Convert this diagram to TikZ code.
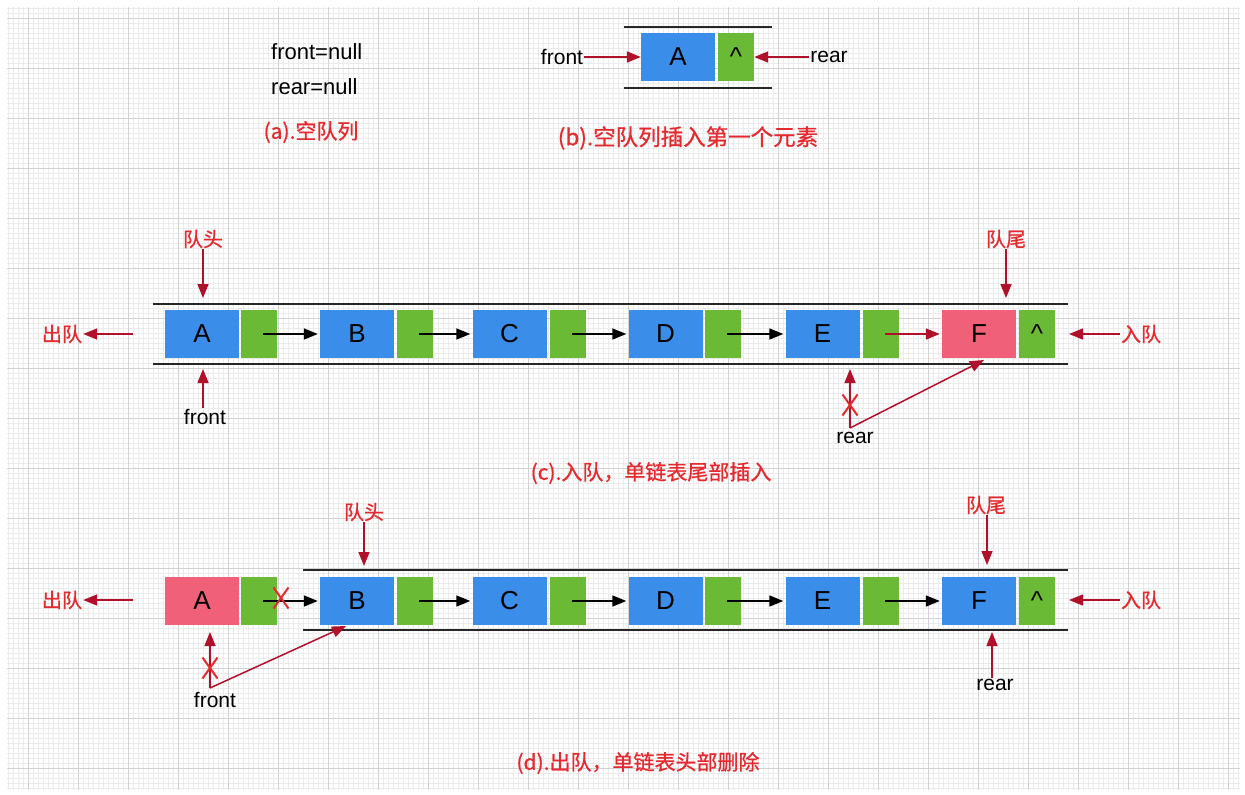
\documentclass[tikz,border=0pt]{standalone}
\usepackage{fontspec}
\setmainfont{Liberation Sans}
\newfontfamily\cjk{Noto Sans CJK SC}[FakeBold=0.8]
\usetikzlibrary{arrows.meta,shapes.misc}
\definecolor{qblue}{HTML}{3B8DEA}
\definecolor{qgreen}{HTML}{6BBA35}
\definecolor{qpink}{HTML}{F06079}
\definecolor{qred}{HTML}{E42A2E}
\definecolor{qdark}{HTML}{B0102A}
\definecolor{gminor}{HTML}{EBEBEB}
\definecolor{gmajor}{HTML}{D2D2D2}
\begin{document}
\begin{tikzpicture}[x=1pt,y=-1pt,
  valbox/.style={fill=qblue, minimum width=74pt, minimum height=48pt, inner sep=0pt, font=\fontsize{26}{26}\selectfont},
  newbox/.style={valbox, fill=qpink},
  ptrbox/.style={fill=qgreen, minimum width=36pt, minimum height=48pt, inner sep=0pt, font=\fontsize{26}{26}\selectfont},
  lbl/.style={inner sep=1pt, font=\fontsize{21}{21}\selectfont},
  redlbl/.style={inner sep=1pt, text=qred, font=\cjk\fontsize{20}{20}\selectfont},
  capt/.style={inner sep=1pt, text=qred, font=\cjk\fontsize{21}{21}\selectfont},
  link/.style={-{Triangle[length=14pt,width=11pt]}, line width=1.5pt, black, shorten <=4pt, shorten >=2pt},
  redlink/.style={link, qdark},
  redarr/.style={-{Triangle[length=14pt,width=11pt]}, line width=1.5pt, qdark},
  rail/.style={line width=1.8pt, black!85},
  xmark/.style={cross out, draw=qred, line width=2pt, minimum width=13pt, minimum height=19pt, inner sep=0pt}
]
\useasboundingbox (0,0) rectangle (1245,795);
\fill[white] (0,0) rectangle (1245,795);
% grid background
\begin{scope}[shift={(28,18)}]
  \draw[gminor, line width=0.4pt, step=5pt] (-21,-11) grid (1212,772);
  \draw[gmajor, line width=0.7pt, step=50pt] (-21,-11) grid (1212,772);
\end{scope}

% ---------- (a) ----------
\node[lbl, anchor=west, font=\fontsize{22}{22}\selectfont] (anull) at (270,52) {front=null};
\node[lbl, anchor=west, font=\fontsize{22}{22}\selectfont] (rnull) at (270,87) {rear=null};
\node[capt] (acap) at (311,132) {(a).空队列};

% ---------- (b) ----------
\draw[rail] (624,27) -- (772,27);
\draw[rail] (624,88) -- (772,88);
\node[valbox] (bA) at (678,57) {A};
\node[ptrbox] (bP) at (736,57) {\textasciicircum};
\node[lbl] (bfront) at (562,57) {front};
\node[lbl] (brear) at (829,57) {rear};
\draw[redarr] (bfront) -- (bA);
\draw[redarr] (brear) -- (bP);
\node[capt, font=\cjk\fontsize{22.5}{22.5}\selectfont] (bcap) at (688,138) {(b).空队列插入第一个元素};

% ---------- (c) ----------
\draw[rail] (153,304) -- (1068,304);
\draw[rail] (153,364) -- (1068,364);
\node[valbox] (cA) at (202,334) {A};
\node[ptrbox] (cPa) at (259,334) {};
\node[valbox] (cB) at (357,334) {B};
\node[ptrbox] (cPb) at (415,334) {};
\node[valbox] (cC) at (509.5,334) {C};
\node[ptrbox] (cPc) at (568,334) {};
\node[valbox] (cD) at (665.5,334) {D};
\node[ptrbox] (cPd) at (723,334) {};
\node[valbox] (cE) at (822.5,334) {E};
\node[ptrbox] (cPe) at (881,334) {};
\node[newbox] (cF) at (979,334) {F};
\node[ptrbox] (cPf) at (1037,334) {\textasciicircum};
\draw[link] (cPa.center) -- (cB);
\draw[link] (cPb.center) -- (cC);
\draw[link] (cPc.center) -- (cD);
\draw[link] (cPd.center) -- (cE);
\draw[redlink] (cPe.center) -- (cF);

\node[redlbl] (chead) at (203,239) {队头};
\coordinate (cheadtip) at (203,298);
\draw[redarr] (chead) -- (cheadtip);
\node[redlbl] (ctail) at (1006,239) {队尾};
\coordinate (ctailtip) at (1006,298);
\draw[redarr] (ctail) -- (ctailtip);
\node[redlbl] (cout) at (62,334) {出队};
\coordinate (coutstart) at (133,334);
\draw[redarr] (coutstart) -- (cout);
\node[redlbl] (cin) at (1141,334) {入队};
\coordinate (cintip) at (1069,334);
\draw[redarr] (cin) -- (cintip);

\node[lbl] (cfront) at (205,417) {front};
\coordinate (cfronttip) at (203,369);
\draw[redarr] (cfront.north -| cfronttip) -- (cfronttip);

\node[lbl] (crear) at (855,438) {rear};
\coordinate (crb) at (850,428);
\coordinate (crtip) at (850,369);
\coordinate (cFtip) at (984,360);
\draw[redarr] (crb) -- (crtip);
\draw[redarr] (crb) -- (cFtip);
\node[xmark] (cx) at (850,405) {};
\node[capt] (ccap) at (651,473) {(c).入队，单链表尾部插入};

% ---------- (d) ----------
\draw[rail] (303,570) -- (1068,570);
\draw[rail] (303,630) -- (1068,630);
\node[newbox] (dA) at (202,601) {A};
\node[ptrbox] (dPa) at (259,601) {};
\node[valbox] (dB) at (357,601) {B};
\node[ptrbox] (dPb) at (415,601) {};
\node[valbox] (dC) at (509.5,601) {C};
\node[ptrbox] (dPc) at (568,601) {};
\node[valbox] (dD) at (665.5,601) {D};
\node[ptrbox] (dPd) at (723,601) {};
\node[valbox] (dE) at (822.5,601) {E};
\node[ptrbox] (dPe) at (881,601) {};
\node[valbox] (dF) at (979,601) {F};
\node[ptrbox] (dPf) at (1037,601) {\textasciicircum};
\draw[link] (dPa.center) -- (dB);
\draw[link] (dPb.center) -- (dC);
\draw[link] (dPc.center) -- (dD);
\draw[link] (dPd.center) -- (dE);
\draw[link] (dPe.center) -- (dF);
\node[xmark] (dx1) at (281,598) {};

\node[redlbl] (dhead) at (364,512) {队头};
\coordinate (dheadtip) at (364,566);
\draw[redarr] (dhead) -- (dheadtip);
\node[redlbl] (dtail) at (986,505) {队尾};
\coordinate (dtailtip) at (987,565);
\draw[redarr] (dtail.south -| dtailtip) -- (dtailtip);
\node[redlbl] (dout) at (62,600) {出队};
\coordinate (doutstart) at (133,600);
\draw[redarr] (doutstart) -- (dout);
\node[redlbl] (din) at (1141,600) {入队};
\coordinate (dintip) at (1069,600);
\draw[redarr] (din) -- (dintip);

\node[lbl] (dfront) at (215,700) {front};
\coordinate (dfb) at (210,688);
\coordinate (dftip) at (210,632);
\coordinate (dBtip) at (346,626);
\draw[redarr] (dfb) -- (dftip);
\draw[redarr] (dfb) -- (dBtip);
\node[xmark] (dx2) at (210,668) {};

\node[lbl] (drear) at (995,685) {rear};
\coordinate (drtip) at (992,632);
\draw[redarr] (drear.north -| drtip) -- (drtip);
\node[capt] (dcap) at (638,763) {(d).出队，单链表头部删除};
\end{tikzpicture}
\end{document}
